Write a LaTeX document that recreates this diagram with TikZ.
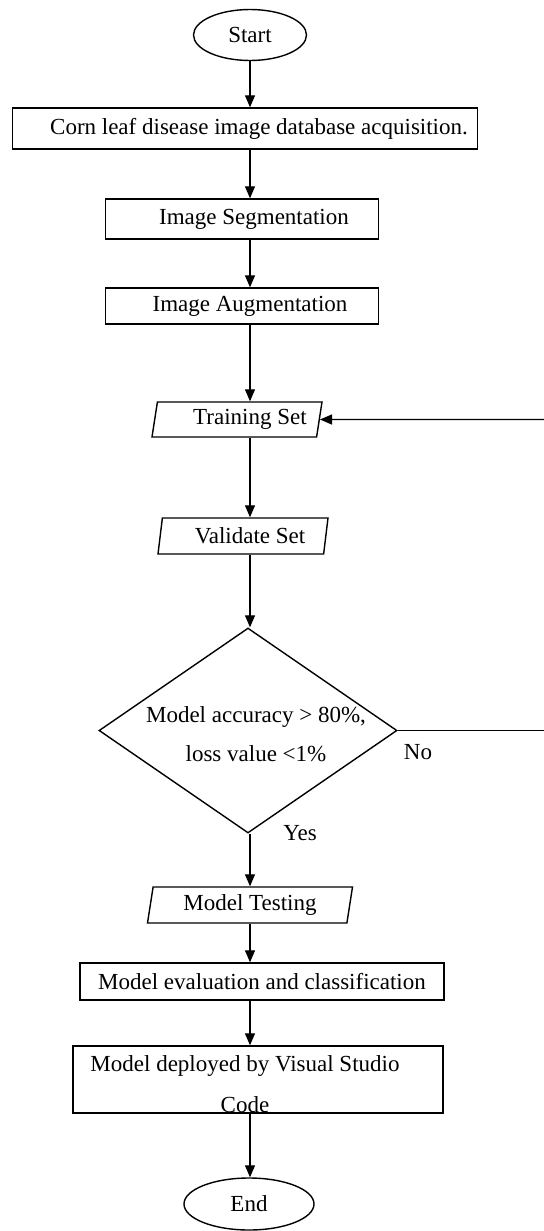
\documentclass[tikz,border=0pt]{standalone}
\usepackage{fontspec}
\setmainfont{Liberation Serif}
\usetikzlibrary{shapes.geometric,arrows.meta}

\tikzset{
  terminal/.style={draw, ellipse, line width=0.7pt, inner sep=0pt},
  process/.style={draw, rectangle, line width=0.7pt, inner sep=0pt},
  io/.style={draw, trapezium, trapezium left angle=75, trapezium right angle=105,
    trapezium stretches body, line width=0.7pt, inner sep=0pt},
  decision/.style={draw, diamond, line width=0.7pt, inner sep=0pt},
  arr/.style={line width=0.6pt, -{Triangle[length=6pt,width=5pt]}},
  plain/.style={line width=0.6pt}
}

\begin{document}
\begin{tikzpicture}[x=0.5pt, y=-0.5pt, font=\fontsize{11.5}{14}\selectfont]
  \useasboundingbox (0,0) rectangle (544,1231);
  % Start
  \node[terminal, minimum width=56.5pt, minimum height=25.5pt] (start) at (250,35) {Start};
  % Preparation
  \node[process, minimum width=232.5pt, minimum height=20.5pt] (acq) at (245,128.5)
    {\hspace*{14pt}Corn leaf disease image database acquisition.};
  \node[process, minimum width=136.5pt, minimum height=20pt] (seg) at (242,219)
    {\hspace*{12pt}Image Segmentation};
  \node[process, minimum width=136.5pt, minimum height=18pt] (aug) at (242,306)
    {\hspace*{8pt}Image Augmentation};
  % Data sets
  \node[io, minimum width=85pt, minimum height=17.5pt] (train) at (237,419.5)
    {\hspace*{13pt}Training Set};
  \node[io, minimum width=85pt, minimum height=18pt] (valid) at (243,536)
    {\hspace*{7pt}Validate Set};
  % Check
  \node[decision, minimum width=149pt, minimum height=102.5pt] (decide) at (248,730.5) {};
  \node[align=center, font=\fontsize{11.5}{19.5}\selectfont] (decidetext) at (256,734.5)
    {Model accuracy > 80\%,\\loss value <1\%};
  \node (yes) at (300,833) {Yes};
  \node (no) at (418,752) {No};
  % Testing and deployment
  \node[io, minimum width=102.5pt, minimum height=18pt] (test) at (250,905) {Model Testing};
  \node[process, minimum width=182pt, minimum height=18.5pt] (eval) at (262,981.5)
    {Model evaluation and classification};
  \node[process, minimum width=185pt, minimum height=33.5pt, align=center,
    font=\fontsize{11.5}{20.5}\selectfont] (deploy) at (258,1079.5)
    {\rule{0pt}{12.4pt}Model deployed by Visual Studio\hspace*{13pt}\\Code\hspace*{13pt}};
  % End
  \node[terminal, minimum width=65pt, minimum height=26pt] (stop) at (249,1204) {End};

  % Main flow
  \foreach \a/\b in {start/acq, acq/seg, seg/aug, aug/train, train/valid, valid/decide,
                     decide/test, test/eval, eval/deploy, deploy/stop} {
    \draw[arr] (\a.south -| start) -- (\b.north -| start);
  }
  % Loop back when the check fails
  \coordinate (nofree) at (548,730.5);
  \coordinate (backfree) at (548,419.5);
  \draw[plain] (decide.east) -- (nofree);
  \draw[arr] (backfree) -- (train.east);
\end{tikzpicture}
\end{document}
